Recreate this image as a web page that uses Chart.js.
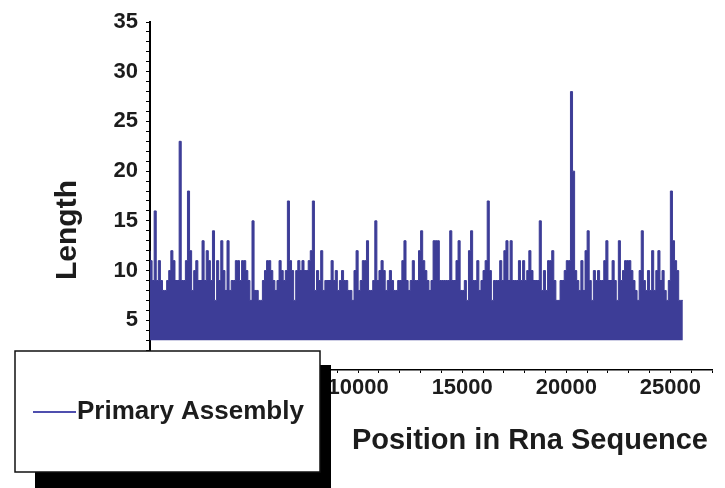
<!DOCTYPE html>
<html>
<head>
<meta charset="utf-8">
<title>Primary Assembly</title>
<script src="https://cdn.jsdelivr.net/npm/chart.js@4/dist/chart.umd.min.js"></script>
<style>
  html, body { margin: 0; padding: 0; background: #fff; }
  #wrap { position: relative; width: 725px; height: 488px; }
</style>
</head>
<body>
<div id="wrap"><canvas id="chart" width="725" height="488"></canvas></div>
<script>
(() => {
  "use strict";

  // lengths per bin, read left to right off the picture
  const lengths = [
    12, 11, 9, 16, 9, 11, 9, 8, 8, 9, 10, 12, 11, 9, 9, 23, 9, 9, 11, 18, 12, 8, 10, 11, 9, 9, 13, 9, 12, 11, 9, 14, 7, 11, 9, 13, 10, 8, 13, 8, 9, 9, 11,
    11, 9, 11, 11, 10, 9, 7, 15, 8, 8, 7, 7, 9, 10, 11, 11, 10, 9, 8, 9, 11, 10, 9, 10, 17, 11, 10, 7, 10, 11, 10, 11, 10, 10, 11, 12, 17, 8, 10, 9, 12, 8, 9, 9,
    9, 11, 9, 10, 8, 9, 10, 9, 9, 8, 8, 7, 10, 12, 8, 9, 11, 11, 13, 8, 8, 9, 15, 9, 10, 11, 10, 8, 9, 10, 9, 8, 8, 9, 9, 11, 13, 9, 8, 9, 11, 9,
    9, 12, 14, 11, 10, 9, 8, 9, 13, 13, 13, 9, 9, 9, 9, 9, 14, 9, 9, 11, 13, 8, 8, 9, 7, 12, 14, 9, 9, 11, 8, 9, 10, 11, 17, 10, 7, 9, 9, 9, 11, 9, 12, 13, 9,
    13, 9, 9, 9, 11, 9, 11, 9, 10, 12, 10, 9, 9, 9, 15, 8, 10, 8, 11, 11, 12, 9, 7, 7, 9, 9, 10, 11, 11, 28, 20, 10, 9, 8, 11, 8, 12, 14, 9, 7, 10, 9, 10,
    9, 9, 11, 13, 9, 9, 11, 9, 7, 13, 9, 10, 11, 11, 11, 10, 9, 8, 7, 10, 14, 9, 8, 10, 8, 12, 8, 10, 12, 9, 10, 8, 7, 9, 18, 13, 11, 10, 7
  ];
  const BIN_SIZE = 100;      // positions per bin
  const BASE_LENGTH = 3;     // bars start here

  const xTicks = [0, 5000, 10000, 15000, 20000, 25000];
  const yTicks = [5, 10, 15, 20, 25, 30, 35];

  const SERIES_LABEL = "Primary Assembly";
  const X_TITLE = "Position in Rna Sequence";
  const Y_TITLE = "Length";

  const FONT = "'Liberation Sans', Arial, sans-serif";
  const INK = "#1c1c1c";
  const FILL = "#3d3d97";

  const points = lengths.map((v, i) => ({ x: i * BIN_SIZE, y: v }));
  points.push({ x: lengths.length * BIN_SIZE, y: lengths[lengths.length - 1] });

  const decor = {
    id: "decor",
    afterDraw(chart) {
      const ctx = chart.ctx;
      ctx.save();

      // y title
      ctx.fillStyle = INK;
      ctx.font = `bold 30px ${FONT}`;
      ctx.textAlign = "center";
      ctx.textBaseline = "middle";
      ctx.translate(68, 230);
      ctx.rotate(-Math.PI / 2);
      ctx.fillText(Y_TITLE, 0, 0);
      ctx.setTransform(1, 0, 0, 1, 0, 0);

      // x title
      ctx.font = `bold 29px ${FONT}`;
      ctx.textAlign = "right";
      ctx.fillText(X_TITLE, 708, 441);

      // legend box with its drop shadow
      ctx.fillStyle = "#000";
      ctx.fillRect(35, 365, 296, 123);
      ctx.fillStyle = "#fff";
      ctx.fillRect(15, 351, 305, 121);
      ctx.strokeStyle = "#111";
      ctx.lineWidth = 1.5;
      ctx.strokeRect(15, 351, 305, 121);

      ctx.strokeStyle = "#4f4fae";
      ctx.lineWidth = 2;
      ctx.beginPath();
      ctx.moveTo(33, 412);
      ctx.lineTo(76, 412);
      ctx.stroke();

      ctx.fillStyle = INK;
      ctx.font = `bold 26px ${FONT}`;
      ctx.textAlign = "left";
      ctx.textBaseline = "middle";
      ctx.fillText(chart.data.datasets[0].label, 77, 412);

      ctx.restore();
    }
  };

  new Chart(document.getElementById("chart"), {
    type: "line",
    data: {
      datasets: [{
        label: SERIES_LABEL,
        data: points,
        stepped: "after",
        borderColor: FILL,
        borderWidth: 1,
        backgroundColor: FILL,
        fill: { value: BASE_LENGTH },
        pointRadius: 0
      }]
    },
    options: {
      responsive: false,
      animation: false,
      layout: { padding: { top: 22, right: 13, left: 0, bottom: 0 } },
      plugins: { legend: { display: false }, tooltip: { enabled: false } },
      scales: {
        x: {
          type: "linear",
          min: 0,
          max: 27000,
          afterFit(scale) { scale.height = 118; },
          border: { color: "#000", width: 1.5 },
          grid: { drawOnChartArea: false, drawTicks: true, tickLength: 3, color: "#000" },
          ticks: {
            stepSize: 1000,
            autoSkip: false,
            maxRotation: 0,
            padding: 2,
            color: INK,
            font: { family: FONT, size: 22, weight: "bold" },
            callback: v => (xTicks.includes(v) ? String(v) : "")
          }
        },
        y: {
          min: 0,
          max: 35,
          afterFit(scale) { scale.width = 150; },
          border: { color: "#000", width: 2 },
          grid: { drawOnChartArea: false, drawTicks: true, tickLength: 4, color: "#000" },
          ticks: {
            stepSize: 1,
            autoSkip: false,
            padding: 8,
            color: INK,
            font: { family: FONT, size: 22, weight: "bold" },
            callback: v => (yTicks.includes(v) ? String(v) : "")
          }
        }
      }
    },
    plugins: [decor]
  });
})();
</script>
</body>
</html>
